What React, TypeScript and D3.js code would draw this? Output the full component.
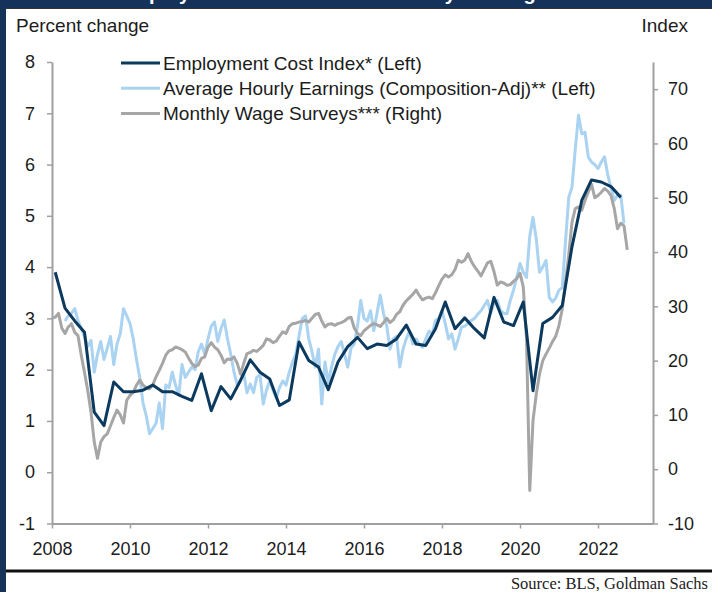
import React, { useEffect, useRef } from "react"
import * as d3 from "d3"

// Monthly wage surveys (right axis, index), Jan 2008 - Oct 2022
const surveyStart = 2008
const surveyValues = [
  27.8, 28.0, 28.7, 26.0, 25.0, 26.2, 26.8, 25.2, 24.6, 21.0, 17.8, 14.5,
  10.5, 5.0, 2.0, 5.0, 6.0, 6.5, 8.0, 9.5, 10.9, 10.0, 8.5, 12.7,
  13.6, 14.2, 15.5, 16.4, 15.5, 15.0, 14.8, 15.5, 17.0, 18.2, 19.5, 21.0,
  21.8, 22.0, 22.5, 22.3, 22.0, 21.6, 20.5, 19.5, 18.9, 19.2, 20.4, 20.7,
  22.5, 23.3, 22.5, 22.0, 21.0, 19.6, 20.3, 20.2, 20.7, 19.5, 17.5, 19.5,
  21.3, 21.5, 21.9, 21.7, 22.2, 22.8, 24.0, 23.8, 23.3, 23.6, 24.5, 25.3,
  25.0, 26.3, 26.8, 26.9, 27.1, 27.2, 27.4, 27.1, 27.8, 28.5, 28.7, 27.3,
  26.2, 26.7, 26.8, 26.5, 26.8, 27.0, 27.3, 27.8, 28.0, 26.0, 25.0, 24.6,
  25.5, 26.0, 26.5, 26.8, 26.6, 26.3, 27.0, 27.8, 27.0, 27.5, 28.5, 29.0,
  30.2, 31.0, 31.6, 32.2, 33.0, 32.0, 31.2, 31.5, 31.7, 31.4, 32.5, 33.8,
  35.0, 35.8, 35.4, 35.8, 36.8, 38.5, 38.1, 38.5, 39.7, 38.3, 37.3, 36.5,
  35.6, 36.8, 38.0, 38.3, 36.4, 33.9, 34.5, 34.3, 33.9, 34.0, 34.6, 35.1,
  36.1, 33.6, 24.0, -3.9, 9.0, 13.8, 17.5, 20.0, 21.2, 22.3, 23.5, 24.5,
  26.5, 29.5, 34.5, 39.5, 45.5, 48.0, 48.3, 47.7, 49.5, 51.0, 52.5, 50.0,
  50.4, 51.0, 51.7, 51.2, 50.4, 48.0, 44.3, 45.3, 44.8, 40.4,
]

// Average hourly earnings, composition adjusted (left axis, %), May 2008 - Sep 2022
const aheStart = 2008 + 4 / 12
const aheValues = [
  2.95, 3.05, 3.1, 3.19, 2.96, 2.8, 2.65, 2.45,
  2.57, 1.95, 2.3, 2.55, 2.2, 2.42, 2.65, 2.1, 2.5, 2.7, 3.19, 3.05,
  2.9, 2.6, 2.2, 1.85, 1.35, 1.1, 0.75, 0.85, 0.95, 1.35, 0.85, 1.7,
  1.65, 1.95, 1.7, 1.5, 2.1, 1.85, 1.95, 2.05, 2.0, 2.35, 2.5, 2.3,
  2.6, 2.85, 2.93, 2.55, 2.8, 2.97, 2.6, 2.3, 1.95, 1.7, 1.8, 1.92,
  1.55, 1.72, 1.55, 1.85, 1.9, 1.33, 1.6, 1.79, 1.6, 1.45, 1.65, 1.78,
  1.7, 1.95, 2.15, 2.3, 2.65, 3.0, 3.05, 2.6, 2.35, 2.05, 2.4, 1.33,
  2.15, 1.75, 2.05, 2.3, 2.45, 2.55, 2.3, 2.05, 2.42, 2.5, 2.85, 3.35,
  3.0, 2.95, 3.15, 2.76, 3.1, 3.45, 3.1, 2.85, 2.4, 2.6, 2.65, 2.05,
  2.4, 2.6, 2.75, 2.5, 2.6, 2.5, 2.44, 2.6, 2.75, 2.7, 2.96, 3.0,
  3.15, 2.9, 2.6, 2.7, 2.4, 2.6, 2.83, 2.85, 2.9, 2.96, 3.0, 3.08,
  3.15, 3.25, 3.35, 3.1, 3.3, 3.35, 3.15, 3.1, 3.09, 3.35, 3.55, 3.8,
  4.07, 3.9, 3.8, 4.6, 4.97, 4.55, 3.9, 4.0, 4.13, 3.41, 3.32, 3.4,
  3.55, 3.6, 4.5, 5.36, 5.56, 6.3, 6.96, 6.6, 6.63, 6.15, 6.05, 6.0,
  5.92, 6.05, 6.15, 5.8, 5.55, 5.3, 5.4, 5.4, 4.85,
]

// Employment cost index (left axis, %), quarterly 2008Q1 - 2022Q3
const eciStart = 2008
const eciValues = [
  3.9, 3.2, 2.95, 2.73,
  1.17, 0.91, 1.76, 1.57,
  1.57, 1.6, 1.7, 1.57,
  1.57, 1.48, 1.4, 1.92,
  1.2, 1.67, 1.43, 1.79,
  2.19, 1.95, 1.82, 1.3,
  1.41, 2.54, 2.18, 2.05,
  1.61, 2.15, 2.45, 2.63,
  2.41, 2.5, 2.47, 2.6,
  2.87, 2.5, 2.47, 2.8,
  3.32, 2.8, 3.01, 2.8,
  2.62, 3.41, 2.93, 2.86,
  3.32, 1.59, 2.9, 3.02,
  3.25, 4.4, 5.3, 5.7,
  5.66, 5.57, 5.36,
]

const leftTicks = [-1, 0, 1, 2, 3, 4, 5, 6, 7, 8]
const rightTicks = [-10, 0, 10, 20, 30, 40, 50, 60, 70]
const yearTicks = [2008, 2010, 2012, 2014, 2016, 2018, 2020, 2022]

const legendLabels = [
  "Employment Cost Index* (Left)",
  "Average Hourly Earnings (Composition-Adj)** (Left)",
  "Monthly Wage Surveys*** (Right)",
]

const NAVY = "#15325a"
const ECI_COLOR = "#0c3a5f"
const AHE_COLOR = "#a9d3f1"
const SURVEY_COLOR = "#a6a6a6"
const AXIS_COLOR = "#a0a0a0"
const TEXT_COLOR = "#1c1c1c"
const FONT = "'Liberation Sans', Arial, sans-serif"

export default function App() {
  const ref = useRef<SVGSVGElement>(null)

  useEffect(() => {
    const width = 712, height = 592
    const margin = { top: 62, right: 59, bottom: 68.5, left: 52 }
    const svg = d3.select(ref.current)
    svg.selectAll("*").remove()

    // frame
    svg.append("rect").attr("width", width).attr("height", height).attr("fill", "white")
    // title sits above the visible area, only its descenders show in the band
    svg.append("rect").attr("x", 0).attr("y", 0).attr("width", width).attr("height", 8).attr("fill", NAVY)
    svg.append("text")
      .attr("x", 118).attr("y", -0.5)
      .attr("fill", "white")
      .style("font-family", FONT).style("font-size", "20px").style("font-weight", "bold")
      .text("Employment Cost Index and Hourly Earnings")
    svg.append("rect").attr("x", 0).attr("y", 0).attr("width", 6).attr("height", height).attr("fill", NAVY)
    svg.append("line")
      .attr("x1", 6).attr("x2", width).attr("y1", 8.5).attr("y2", 8.5)
      .attr("stroke", "#333").attr("stroke-width", 1)

    svg.append("line")
      .attr("x1", 6).attr("x2", width).attr("y1", 571).attr("y2", 571)
      .attr("stroke", "#111").attr("stroke-width", 3)
    svg.append("text")
      .attr("x", 708).attr("y", 589)
      .attr("text-anchor", "end")
      .attr("fill", "#222")
      .style("font-family", "'Liberation Serif', 'Times New Roman', serif")
      .style("font-size", "16.5px")
      .text("Source: BLS, Goldman Sachs")

    const x0 = margin.left, x1 = width - margin.right
    const yTop = margin.top, yBot = height - margin.bottom

    const x = d3.scaleLinear().domain([2008, 2023.41]).range([x0, x1])
    const yL = d3.scaleLinear().domain([-1, 8]).range([yBot, yTop])
    const yR = d3.scaleLinear().domain([-10, 75]).range([yBot, yTop])

    const g = svg.append("g")

    // axes
    const styleAxis = (sel: any) => {
      sel.select(".domain").attr("stroke", AXIS_COLOR).attr("stroke-width", 2)
      sel.selectAll(".tick line").attr("stroke", AXIS_COLOR).attr("stroke-width", 1.5)
      sel.selectAll(".tick text")
        .attr("fill", TEXT_COLOR)
        .style("font-family", FONT)
        .style("font-size", "18px")
    }
    const plain = (d: any) => String(d)

    g.append("g")
      .attr("transform", `translate(${x0},0)`)
      .call(d3.axisLeft(yL).tickValues(leftTicks).tickSizeInner(5).tickSizeOuter(0).tickPadding(12).tickFormat(plain))
      .call(styleAxis)

    g.append("g")
      .attr("transform", `translate(${x1},0)`)
      .call(d3.axisRight(yR).tickValues(rightTicks).tickSizeInner(5).tickSizeOuter(0).tickPadding(10).tickFormat(plain))
      .call(styleAxis)

    g.append("g")
      .attr("transform", `translate(0,${yBot})`)
      .call(d3.axisBottom(x).tickValues(yearTicks).tickSizeInner(5).tickSizeOuter(0).tickPadding(14).tickFormat(plain))
      .call(styleAxis)

    // axis titles
    g.append("text")
      .attr("x", 16).attr("y", 32)
      .attr("fill", TEXT_COLOR)
      .style("font-family", FONT).style("font-size", "19px")
      .text("Percent change")
    g.append("text")
      .attr("x", 688).attr("y", 32)
      .attr("text-anchor", "end")
      .attr("fill", TEXT_COLOR)
      .style("font-family", FONT).style("font-size", "19px")
      .text("Index")

    // series
    const survey = surveyValues.map((v, i) => [surveyStart + i / 12, v])
    const ahe = aheValues.map((v, i) => [aheStart + i / 12, v])
    const eci = eciValues.map((v, i) => [eciStart + i * 0.25 + 1 / 12, v])

    const lineL = d3.line<number[]>().x(d => x(d[0])).y(d => yL(d[1]))
    const lineR = d3.line<number[]>().x(d => x(d[0])).y(d => yR(d[1]))

    g.append("path").datum(ahe).attr("d", lineL)
      .attr("fill", "none").attr("stroke", AHE_COLOR).attr("stroke-width", 3).attr("stroke-linejoin", "round")
    g.append("path").datum(survey).attr("d", lineR)
      .attr("fill", "none").attr("stroke", SURVEY_COLOR).attr("stroke-width", 3).attr("stroke-linejoin", "round")
    g.append("path").datum(eci).attr("d", lineL)
      .attr("fill", "none").attr("stroke", ECI_COLOR).attr("stroke-width", 3).attr("stroke-linejoin", "round")

    // legend
    const colors = [ECI_COLOR, AHE_COLOR, SURVEY_COLOR]
    const legend = g.append("g")
    legendLabels.forEach((label, i) => {
      const ly = 63 + i * 25.3
      legend.append("line")
        .attr("x1", 121).attr("x2", 160).attr("y1", ly).attr("y2", ly)
        .attr("stroke", colors[i]).attr("stroke-width", 3)
      legend.append("text")
        .attr("x", 163).attr("y", ly + 6.7)
        .attr("fill", TEXT_COLOR)
        .style("font-family", FONT).style("font-size", "19px")
        .text(label)
    })
  }, [])

  return (
    <svg ref={ref} width={712} height={592} style={{ position: "absolute", left: 0, top: 0 }} />
  )
}
